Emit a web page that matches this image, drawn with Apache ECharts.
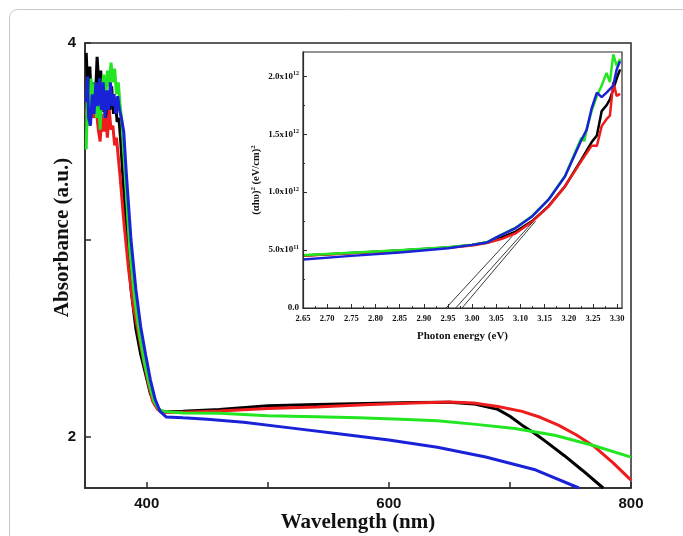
<!DOCTYPE html>
<html>
<head>
<meta charset="utf-8">
<title>Absorbance spectra</title>
<script src="https://cdn.jsdelivr.net/npm/echarts@6/dist/echarts.min.js"></script>
<style>
  html, body { margin: 0; padding: 0; background: #fff; }
  #chart { width: 683px; height: 536px; }
</style>
</head>
<body>
<div id="chart"></div>
<script>
// ---- Main panel: absorbance vs wavelength ----
const blackNm  = [350, 351.5, 353, 354.5, 356, 357.5, 359, 360.5, 362, 363.5, 365, 366.5, 368, 369.5, 371, 372.5, 374, 375.5, 377, 378.5, 380, 383, 387, 391, 395, 399, 403, 407, 411, 415, 430, 460, 500, 540, 580, 620, 650, 670, 690, 700, 710, 720, 730, 745, 760, 777];
const blackAbs = [3.95, 3.72, 3.88, 3.66, 3.80, 3.70, 3.93, 3.78, 3.86, 3.65, 3.78, 3.62, 3.75, 3.66, 3.78, 3.64, 3.72, 3.60, 3.62, 3.50, 3.35, 3.05, 2.75, 2.55, 2.42, 2.32, 2.22, 2.16, 2.135, 2.128, 2.13, 2.14, 2.158, 2.165, 2.170, 2.175, 2.176, 2.168, 2.14, 2.105, 2.06, 2.02, 1.975, 1.905, 1.83, 1.741];

const redNm  = [350, 352, 354, 356, 358, 360, 361.5, 363, 364.5, 366, 367.5, 369, 370.5, 372, 373.5, 375, 376.5, 378, 381, 385, 389, 393, 397, 401, 405, 409, 413, 430, 460, 500, 540, 580, 620, 650, 670, 690, 710, 725, 740, 755, 770, 785, 800];
const redAbs = [3.66, 3.58, 3.70, 3.62, 3.68, 3.56, 3.50, 3.64, 3.55, 3.62, 3.52, 3.66, 3.56, 3.58, 3.48, 3.52, 3.42, 3.32, 3.10, 2.85, 2.66, 2.53, 2.40, 2.28, 2.18, 2.14, 2.125, 2.125, 2.132, 2.145, 2.152, 2.163, 2.172, 2.178, 2.172, 2.155, 2.13, 2.10, 2.06, 2.01, 1.95, 1.87, 1.781];

const greenNm  = [350, 351, 352.5, 354, 355.5, 357, 358.5, 360, 361.5, 363, 364.5, 366, 367.5, 369, 370.5, 372, 373.5, 375, 376.5, 378, 379.5, 382, 386, 390, 394, 398, 402, 406, 410, 414, 430, 460, 500, 540, 575, 610, 640, 672, 704, 737, 769, 800];
const greenAbs = [3.46, 3.72, 3.58, 3.82, 3.66, 3.80, 3.62, 3.74, 3.56, 3.76, 3.84, 3.70, 3.86, 3.78, 3.90, 3.80, 3.87, 3.74, 3.80, 3.68, 3.60, 3.35, 2.95, 2.70, 2.52, 2.38, 2.27, 2.18, 2.14, 2.13, 2.122, 2.12, 2.108, 2.103, 2.098, 2.09, 2.082, 2.064, 2.043, 2.009, 1.957, 1.898];

const blueNm  = [350, 351, 352, 353.5, 355, 356.5, 358, 359.5, 361, 362.5, 364, 365.5, 367, 368.5, 370, 371.5, 373, 374.5, 376, 377.5, 379, 381, 383, 387, 391, 395, 399, 403, 407, 411, 416, 430, 450, 480, 520, 560, 600, 640, 680, 720, 757];
const blueAbs = [3.70, 3.83, 3.62, 3.58, 3.74, 3.64, 3.80, 3.68, 3.82, 3.66, 3.80, 3.62, 3.76, 3.66, 3.80, 3.68, 3.74, 3.64, 3.73, 3.66, 3.62, 3.55, 3.35, 3.00, 2.75, 2.56, 2.42, 2.29, 2.19, 2.13, 2.102, 2.097, 2.09, 2.075, 2.045, 2.015, 1.985, 1.948, 1.898, 1.835, 1.741];

const nmTicks  = [400, 500, 600, 700, 800];
const nmLabels = [400, 600, 800];
const absTicks  = [2, 3, 4];
const absLabels = [2, 4];

// ---- Inset: Tauc plot, (alpha h nu)^2 in units of 1e12 (eV/cm)^2 ----
const blackE = [2.65, 2.75, 2.85, 2.95, 3.00, 3.03, 3.06, 3.09, 3.124, 3.158, 3.192, 3.226, 3.247, 3.258, 3.268, 3.278, 3.285, 3.292, 3.299, 3.306];
const blackT = [0.453, 0.475, 0.497, 0.522, 0.545, 0.565, 0.61, 0.66, 0.75, 0.88, 1.05, 1.28, 1.43, 1.49, 1.70, 1.75, 1.80, 1.89, 1.98, 2.06];

const redE = [2.65, 2.75, 2.85, 2.95, 3.00, 3.03, 3.06, 3.09, 3.124, 3.158, 3.192, 3.226, 3.247, 3.258, 3.268, 3.278, 3.285, 3.292, 3.299, 3.306];
const redT = [0.45, 0.473, 0.495, 0.52, 0.54, 0.56, 0.595, 0.645, 0.745, 0.875, 1.05, 1.27, 1.40, 1.40, 1.57, 1.63, 1.66, 1.95, 1.83, 1.85];

const greenE = [2.65, 2.75, 2.85, 2.95, 3.00, 3.03, 3.055, 3.09, 3.124, 3.158, 3.192, 3.226, 3.232, 3.237, 3.247, 3.258, 3.268, 3.278, 3.285, 3.292, 3.299, 3.306];
const greenT = [0.455, 0.477, 0.499, 0.524, 0.547, 0.567, 0.62, 0.693, 0.794, 0.938, 1.14, 1.47, 1.44, 1.544, 1.70, 1.83, 1.92, 2.03, 1.95, 2.19, 2.09, 2.15];

const blueE = [2.65, 2.75, 2.85, 2.95, 3.00, 3.03, 3.055, 3.09, 3.124, 3.158, 3.192, 3.226, 3.237, 3.247, 3.258, 3.268, 3.278, 3.285, 3.292, 3.299, 3.306];
const blueT = [0.418, 0.45, 0.48, 0.515, 0.545, 0.565, 0.62, 0.69, 0.79, 0.935, 1.135, 1.45, 1.54, 1.72, 1.86, 1.82, 1.86, 1.89, 1.92, 2.06, 2.13];

// linear extrapolations of the absorption edge down to the energy axis
const fitA = [[2.946, 0], [3.083, 0.62]];
const fitB = [[2.966, 0], [3.124, 0.736]];
const fitC = [[2.979, 0], [3.131, 0.75]];

const eTicks  = [2.65, 2.70, 2.75, 2.80, 2.85, 2.90, 2.95, 3.00, 3.05, 3.10, 3.15, 3.20, 3.25, 3.30];
const eMinor  = [2.675, 2.725, 2.775, 2.825, 2.875, 2.925, 2.975, 3.025, 3.075, 3.125, 3.175, 3.225, 3.275];
const tTicks  = [0, 0.5, 1.0, 1.5, 2.0];
const tMinor  = [0.25, 0.75, 1.25, 1.75];

const COLORS = { black: '#000000', red: '#ee1c1c', green: '#22e622', blue: '#1a22d8' };

function pairs(xs, ys) { return xs.map((x, i) => [x, ys[i]]); }

const axisColor = '#2a2a2a';
const sansBold = { fontFamily: 'Liberation Sans', fontWeight: 'bold', color: '#111' };
const serifBold = { fontFamily: 'Liberation Serif', fontWeight: 'bold', color: '#111' };

function mainLine(name, xs, ys, color) {
  return {
    name, type: 'line', xAxisIndex: 0, yAxisIndex: 0,
    data: pairs(xs, ys), showSymbol: false, symbol: 'none',
    lineStyle: { color, width: 3 }, z: 2
  };
}
function insetLine(name, xs, ys, color) {
  return {
    name, type: 'line', xAxisIndex: 1, yAxisIndex: 1,
    data: pairs(xs, ys), showSymbol: false, symbol: 'none',
    lineStyle: { color, width: 2.5 }, z: 12, zlevel: 1
  };
}
function fitLine(name, pts) {
  return {
    name, type: 'line', xAxisIndex: 1, yAxisIndex: 1,
    data: pts, showSymbol: false, symbol: 'none',
    lineStyle: { color: '#222', width: 0.9 }, z: 13, zlevel: 1
  };
}

// exponent formatting for the inset ordinate: 5.0x10^11, 1.0x10^12 ...
function taucLabel(v) {
  if (Math.abs(v) < 1e-9) return '{m|0.0}';
  if (v < 1) return '{m|' + (v * 10).toFixed(1) + 'x10}{e|11}';
  return '{m|' + v.toFixed(1) + 'x10}{e|12}';
}

const chart = echarts.init(document.getElementById('chart'), null, { renderer: 'canvas' });

chart.setOption({
  animation: false,
  backgroundColor: '#ffffff',
  graphic: [{
    type: 'rect', z: 0, silent: true,
    shape: { x: 9.5, y: 9.5, width: 700, height: 580, r: 8 },
    style: { fill: 'none', stroke: '#c9c9c9', lineWidth: 1 }
  }],
  grid: [
    { left: 85, top: 43, width: 546, height: 445, outerBoundsMode: 'none', containLabel: false,
      show: true, borderColor: axisColor, borderWidth: 1.5, backgroundColor: 'transparent' },
    { left: 303, top: 52, width: 319, height: 256, outerBoundsMode: 'none', containLabel: false,
      show: true, borderColor: axisColor, borderWidth: 1.2, backgroundColor: '#ffffff', zlevel: 1, z: 10 }
  ],
  xAxis: [
    {
      type: 'value', gridIndex: 0, min: 349, max: 800, position: 'bottom',
      axisLine: { show: true, lineStyle: { color: axisColor, width: 1.5 } },
      axisTick: { show: true, inside: true, length: 6, customValues: nmTicks, lineStyle: { color: axisColor, width: 1.5 } },
      axisLabel: { show: true, customValues: nmLabels, margin: 8, fontSize: 15, ...sansBold },
      splitLine: { show: false },
      name: 'Wavelength (nm)', nameLocation: 'middle', nameGap: 24, nameMoveOverlap: false,
      nameTextStyle: { fontSize: 21, ...serifBold }
    },
    {
      type: 'value', gridIndex: 1, min: 2.65, max: 3.31, position: 'bottom',
      axisLine: { show: true, lineStyle: { color: axisColor, width: 1.2 } },
      axisTick: { show: true, inside: true, length: 4, customValues: eTicks, lineStyle: { color: axisColor, width: 1 } },
      axisLabel: { show: true, customValues: eTicks, margin: 6, fontSize: 8.5, formatter: v => v.toFixed(2), ...serifBold },
      splitLine: { show: false },
      name: 'Photon energy (eV)', nameLocation: 'middle', nameGap: 23, nameMoveOverlap: false,
      nameTextStyle: { fontSize: 11, ...serifBold },
      zlevel: 1, z: 14
    },
    {
      type: 'value', gridIndex: 1, min: 2.65, max: 3.31, position: 'bottom', offset: 0,
      axisLine: { show: false },
      axisTick: { show: true, inside: true, length: 2, customValues: eMinor, lineStyle: { color: axisColor, width: 1 } },
      axisLabel: { show: false }, splitLine: { show: false },
      zlevel: 1, z: 14
    }
  ],
  yAxis: [
    {
      type: 'value', gridIndex: 0, min: 1.741, max: 4, position: 'left',
      axisLine: { show: true, lineStyle: { color: axisColor, width: 1.5 } },
      axisTick: { show: true, inside: true, length: 6, customValues: absTicks, lineStyle: { color: axisColor, width: 1.5 } },
      axisLabel: { show: true, customValues: absLabels, margin: 9, fontSize: 15, ...sansBold },
      splitLine: { show: false },
      name: 'Absorbance (a.u.)', nameLocation: 'middle', nameGap: 12, nameMoveOverlap: false,
      nameTextStyle: { fontSize: 21, padding: [0, 0, 0, 56], ...serifBold }
    },
    {
      type: 'value', gridIndex: 1, min: 0, max: 2.21, position: 'left',
      axisLine: { show: true, lineStyle: { color: axisColor, width: 1.2 } },
      axisTick: { show: true, inside: true, length: 4, customValues: tTicks, lineStyle: { color: axisColor, width: 1 } },
      axisLabel: {
        show: true, customValues: tTicks, margin: 4, formatter: taucLabel,
        rich: {
          m: { fontSize: 9, fontFamily: 'Liberation Serif', fontWeight: 'bold', color: '#111' },
          e: { fontSize: 6, fontFamily: 'Liberation Serif', fontWeight: 'bold', color: '#111', verticalAlign: 'top', padding: [0, 0, 5, 0] }
        }
      },
      splitLine: { show: false },
      name: '{m|(αhυ)}{e|2}{m| (eV/cm)}{e|2}', nameLocation: 'middle', nameGap: 40, nameMoveOverlap: false,
      nameTextStyle: {
        rich: {
          m: { fontSize: 10.5, fontFamily: 'Liberation Serif', fontWeight: 'bold', color: '#111' },
          e: { fontSize: 7, fontFamily: 'Liberation Serif', fontWeight: 'bold', color: '#111', verticalAlign: 'top', padding: [0, 0, 6, 0] }
        }
      },
      zlevel: 1, z: 14
    },
    {
      type: 'value', gridIndex: 1, min: 0, max: 2.21, position: 'left', offset: 0,
      axisLine: { show: false },
      axisTick: { show: true, inside: true, length: 2, customValues: tMinor, lineStyle: { color: axisColor, width: 1 } },
      axisLabel: { show: false }, splitLine: { show: false },
      zlevel: 1, z: 14
    }
  ],
  series: [
    mainLine('S1', blackNm, blackAbs, COLORS.black),
    mainLine('S2', redNm, redAbs, COLORS.red),
    mainLine('S3', greenNm, greenAbs, COLORS.green),
    mainLine('S4', blueNm, blueAbs, COLORS.blue),
    insetLine('S1 Tauc', blackE, blackT, COLORS.black),
    insetLine('S2 Tauc', redE, redT, COLORS.red),
    insetLine('S3 Tauc', greenE, greenT, COLORS.green),
    insetLine('S4 Tauc', blueE, blueT, COLORS.blue),
    fitLine('fit a', fitA),
    fitLine('fit b', fitB),
    fitLine('fit c', fitC)
  ]
});
</script>
</body>
</html>
